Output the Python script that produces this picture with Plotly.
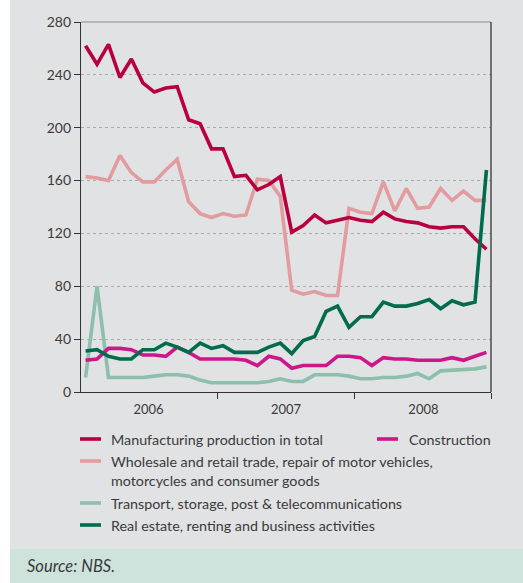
import plotly.graph_objects as go

# Monthly observations, January 2006 - December 2008
months = [f"{y}-{m:02d}" for y in (2006, 2007, 2008) for m in range(1, 13)]
year_labels = ["2006", "2007", "2008"]

manufacturing = [262, 248, 263, 238, 252, 234, 227, 230, 231, 206, 203, 184,
                 184, 163, 164, 153, 157, 163, 121, 126, 134, 128, 130, 132,
                 130, 129, 136, 131, 129, 128, 125, 124, 125, 125, 116, 108]
wholesale = [163, 162, 160, 179, 166, 159, 159, 168, 176, 144, 135, 132,
             135, 133, 134, 161, 160, 148, 77, 74, 76, 73, 73, 139,
             136, 135, 159, 137, 154, 139, 140, 154, 145, 152, 145, 145]
construction = [24, 25, 33, 33, 32, 28, 28, 27, 34, 30, 25, 25,
                25, 25, 24, 20, 27, 25, 18, 20, 20, 20, 27, 27,
                26, 20, 26, 25, 25, 24, 24, 24, 26, 24, 27, 30]
transport = [11, 80, 11, 11, 11, 11, 12, 13, 13, 12, 9, 7,
             7, 7, 7, 7, 8, 10, 8, 8, 13, 13, 13, 12,
             10, 10, 11, 11, 12, 14, 10, 16, 16.5, 17, 17.5, 19]
real_estate = [31, 32, 27, 25, 25, 32, 32, 37, 34, 30, 37, 33,
               35, 30, 30, 30, 34, 37, 29, 39, 42, 61, 65, 49,
               57, 57, 68, 65, 65, 67, 70, 63, 69, 66, 68, 168]

series = [
    ("Manufacturing production in total", manufacturing, "#b8003e"),
    ("Construction", construction, "#cc168a"),
    ("Wholesale and retail trade, repair of motor vehicles,<br>motorcycles and consumer goods", wholesale, "#e29c9f"),
    ("Transport, storage, post & telecommunications", transport, "#8ebfac"),
    ("Real estate, renting and business activities", real_estate, "#006b4d"),
]

x = list(range(len(months)))
FONT = "Lato"
TXT = "#3a3a3a"
BG = "#e1e2e4"

fig = go.Figure()
draw_order = [2, 0, 3, 1, 4]
for k in draw_order:
    name, vals, col = series[k]
    fig.add_trace(go.Scatter(x=x, y=vals, mode="lines", name=name,
                             line=dict(color=col, width=3.6), showlegend=False))

# plot-area geometry in pixels (for placing legend/footer in paper units)
L, R, T, B = 81, 491, 22, 392
W, H = R - L, B - T


def px(xp):
    return (xp - L) / W


def py(yp):
    return (B - yp) / H


shapes = [
    dict(type="rect", xref="paper", yref="paper", x0=px(10), x1=px(523),
         y0=py(549), y1=py(0), fillcolor=BG, line_width=0, layer="below"),
    dict(type="rect", xref="paper", yref="paper", x0=px(10), x1=px(523),
         y0=py(583), y1=py(549), fillcolor="#cde3dc", line_width=0, layer="below"),
    dict(type="line", xref="paper", yref="paper", x0=0, x1=1, y0=1, y1=1,
         line=dict(color="#8a8a8a", width=1.2)),
]
annotations = []

# legend rows: (series index, swatch x, text x, row y)
legend_rows = [
    (0, 80, 109, 439),
    (1, 377, 407, 439),
    (2, 80, 109, 471),
    (3, 80, 109, 503),
    (4, 80, 109, 525),
]
for idx, sx, tx, ty in legend_rows:
    name, _, col = series[idx]
    sy = ty if idx != 2 else 461
    shapes.append(dict(type="line", xref="paper", yref="paper",
                       x0=px(sx), x1=px(sx + 21), y0=py(sy), y1=py(sy),
                       line=dict(color=col, width=3.6)))
    annotations.append(dict(text=name, xref="paper", yref="paper",
                            x=px(tx), y=py(ty), xanchor="left", yanchor="middle",
                            align="left", showarrow=False,
                            font=dict(family=FONT, size=14.3, color=TXT)))

annotations.append(dict(text="<i>Source: NBS.</i>", xref="paper", yref="paper",
                        x=px(25), y=py(566), xanchor="left", yanchor="middle",
                        showarrow=False, font=dict(family=FONT, size=16.5, color=TXT)))

fig.update_layout(
    width=523, height=583,
    margin=dict(l=L, r=523 - R, t=T, b=583 - B),
    paper_bgcolor="white",
    plot_bgcolor="rgba(0,0,0,0)",
    shapes=shapes,
    annotations=annotations,
    font=dict(family=FONT, color=TXT),
    xaxis=dict(
        range=[-0.4, 35.4],
        tickvals=[5.5, 17.5, 29.5], ticktext=year_labels,
        ticks="", showgrid=False, zeroline=False, ticklabelstandoff=5,
        showline=True, linecolor="#333", linewidth=1.3, mirror=False,
        tickfont=dict(family=FONT, size=13, color=TXT),
        minor=dict(tickvals=[11.5, 23.5, 35.4], ticks="outside", ticklen=6,
                   tickcolor="#333", tickwidth=1.3, showgrid=False),
    ),
    yaxis=dict(
        range=[0, 280], tickvals=list(range(0, 281, 40)),
        ticks="outside", ticklen=6, tickcolor="#333", tickwidth=1.3,
        showgrid=True, gridcolor="#a9a9a9", griddash="dot", gridwidth=1,
        zeroline=False, showline=True, linecolor="#333", linewidth=1.3,
        tickfont=dict(family=FONT, size=14, color=TXT),
    ),
)
# right frame edge
fig.add_shape(type="line", xref="paper", yref="paper", x0=1, x1=1, y0=0, y1=1,
              line=dict(color="#333", width=1.3))

fig.write_html("out.html")
